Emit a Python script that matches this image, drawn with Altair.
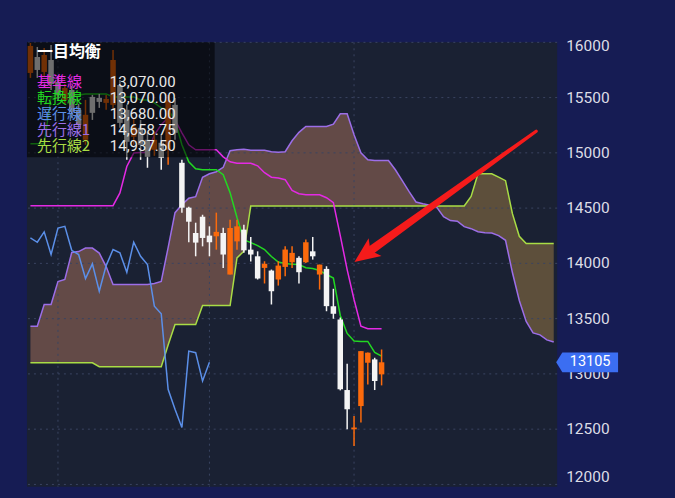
import altair as alt
import pandas as pd

# ---------------- data ----------------
# daily candles, index 0..51
opens = [15723, 15867, 15732, 15840, 15642, 15479, 15569, 15389, 15118, 15506,
         15497, 15452, 15434, 15614, 15389, 15145, 15226, 15118, 15027, 15091,
         15027, 15434, 14910, 14504, 14275, 14422, 14251, 14245, 14275, 13899,
         14199, 14305, 14124, 14064, 13959, 13935, 13854, 13968, 14010, 14050,
         14010, 14109, 13899, 13950, 13612, 13492, 12854, 12499, 12709, 13101,
         13131, 12996]
highs = [15994, 15958, 15949, 15976, 15696, 15623, 15605, 15443, 15479, 15524,
         15533, 15524, 15930, 15660, 15434, 15316, 15298, 15190, 15190, 15163,
         15524, 15497, 14937, 14513, 14368, 14440, 14335, 14459, 14323, 14395,
         14395, 14350, 14239, 14109, 14019, 13944, 14019, 14154, 14154, 14064,
         14215, 14239, 13989, 13974, 13770, 13510, 13092, 12619, 13206, 13194,
         13146, 13221]
lows = [15678, 15678, 15696, 15569, 15479, 15443, 15316, 15208, 15073, 15298,
        15407, 15389, 15389, 15226, 14937, 15073, 14937, 14865, 14973, 14847,
        14892, 15118, 14459, 14190, 14064, 14154, 14064, 14124, 13959, 13899,
        14124, 14097, 14016, 13854, 13818, 13628, 13799, 13883, 13959, 13818,
        14004, 14034, 13763, 13567, 13499, 12851, 12499, 12348, 12560, 12905,
        12854, 12896]
closes = [15967, 15750, 15885, 15623, 15524, 15587, 15371, 15253, 15344, 15362,
          15461, 15488, 15840, 15271, 15100, 15235, 15073, 14964, 15118, 14955,
          15479, 15181, 14504, 14377, 14188, 14230, 14191, 14285, 14080, 14320,
          14335, 14118, 14080, 13863, 13996, 13748, 13980, 14125, 14095, 13920,
          14191, 14064, 13989, 13613, 13544, 12861, 12680, 12515, 13206, 13192,
          12936, 13105]

# 転換線 (conversion line), index 0..51
tenkan = [15082, 15082, 15082, 15506, 15524, 15524, 15524, 15524, 15533, 15533,
          15533, 15533, 15506, 15506, 15506, 15506, 15479, 15479, 15452, 15407,
          15389, 15298, 15073, 14919, 14856, 14847, 14847, 14847, 14802, 14640,
          14415, 14215, 14188, 14161, 14125, 14062, 14012, 13998, 13993, 13989,
          13960, 13953, 13935, 13899, 13867, 13529, 13366, 13297, 13294, 13294,
          13195, 13161]
# 基準線 (base line), index 0..51
kijun = [14522, 14522, 14522, 14522, 14522, 14522, 14522, 14522, 14522, 14522,
         14522, 14522, 14522, 14637, 14877, 14998, 15003, 15003, 15163, 15254,
         15317, 15298, 15181, 15073, 15028, 15028, 15028, 15028, 14964, 14919,
         14906, 14906, 14906, 14883, 14820, 14780, 14772, 14757, 14660, 14630,
         14621, 14621, 14621, 14594, 14549, 14251, 13944, 13673, 13432, 13409,
         13409, 13409]
# 先行線1 / 先行線2 (leading spans), index 0..76
senkou_a = [13432, 13432, 13628, 13628, 13836, 13854, 14098, 14107, 14138, 14138,
            14093, 13971, 13809, 13809, 13809, 13809, 13809, 13809, 13818, 13836,
            14143, 14459, 14531, 14590, 14603, 14779, 14811, 14829, 14869, 15019,
            15028, 15032, 15023, 15023, 15023, 15010, 15005, 15010, 15109, 15185,
            15238, 15238, 15238, 15238, 15260, 15353, 15353, 15163, 15000, 14937,
            14931, 14931, 14931, 14847, 14748, 14649, 14555, 14540, 14527, 14509,
            14423, 14387, 14381, 14332, 14314, 14287, 14278, 14274, 14251, 14209,
            13917, 13664, 13475, 13371, 13353, 13308, 13289]
senkou_b = [13100, 13100, 13100, 13100, 13100, 13100, 13100, 13100, 13100, 13100,
            13065, 13065, 13065, 13065, 13065, 13065, 13065, 13065, 13065, 13065,
            13262, 13447, 13447, 13447, 13447, 13619, 13619, 13619, 13619, 13619,
            14050, 14110, 14520, 14520, 14520, 14520, 14520, 14520, 14520, 14520,
            14520, 14520, 14520, 14520, 14520, 14520, 14520, 14520, 14520, 14520,
            14520, 14520, 14520, 14520, 14520, 14520, 14520, 14520, 14520, 14520,
            14520, 14520, 14520, 14520, 14606, 14811, 14811, 14811, 14780, 14748,
            14450, 14245, 14179, 14179, 14179, 14179, 14179]
CHIKOU_SHIFT = 25  # 遅行線 = close plotted 25 bars back

y_ticks = [12000, 12500, 13000, 13500, 14000, 14500, 15000, 15500, 16000]
vgrid_idx = [4, 26, 47]

legend_title = "一目均衡"
legend_names = ["基準線", "転換線", "遅行線", "先行線1", "先行線2"]
legend_values = ["13,070.00", "13,070.00", "13,680.00", "14,658.75", "14,937.50"]

# annotation arrow (data coordinates): tail -> shaft end, and tip
arrow_i = [73.45, 49.5]
arrow_v = [15196, 14121]
arrow_w = [3.2, 8.5]
arrow_tip_i = [47.06]
arrow_tip_v = [14012]

# ---------------- styles ----------------
C_UP = "#fb6a0c"
C_DOWN = "#f4f4f4"
C_TENKAN = "#22d822"
C_KIJUN = "#e42ae4"
C_CHIKOU = "#5b8fe8"
C_SA = "#9c6ee8"
C_SB = "#a9dd45"
C_CLOUD_UP = "#634a47"
C_CLOUD_DN = "#5d4f3b"
C_GRID = "#3a4461"
C_ARROW = "#f51b1b"
C_LABEL = "#dcdde6"
legend_colors = [C_KIJUN, C_TENKAN, C_CHIKOU, C_SA, C_SB]

W, H = 531, 445
XS = alt.Scale(domain=[-0.5, 76.5], nice=False, zero=False)
YS = alt.Scale(domain=[11980, 16000], nice=False, zero=False)


def X(f="i"):
    return alt.X(f"{f}:Q", scale=XS, axis=None)


def Y(f):
    return alt.Y(f"{f}:Q", scale=YS, axis=None)


# ---------------- frames ----------------
n = len(closes)
candles = pd.DataFrame({"i": range(n), "open": opens, "high": highs,
                        "low": lows, "close": closes})
candles["dir"] = ["up" if c >= o else "down" for o, c in zip(opens, closes)]
lines = pd.DataFrame({"i": range(n), "tenkan": tenkan, "kijun": kijun})
chikou = pd.DataFrame({"i": range(n - CHIKOU_SHIFT), "v": closes[CHIKOU_SHIFT:]})

rows = []
m = len(senkou_a)
for k in range(m):
    a, b = senkou_a[k], senkou_b[k]
    rows.append((k, a, b))
    if k < m - 1:
        a2, b2 = senkou_a[k + 1], senkou_b[k + 1]
        d1, d2 = a - b, a2 - b2
        if d1 * d2 < 0:
            t = d1 / (d1 - d2)
            c = a + t * (a2 - a)
            rows.append((k + t, c, c))
cloud = pd.DataFrame(rows, columns=["i", "a", "b"])
cloud["lo"] = cloud[["a", "b"]].min(axis=1)
spans = pd.DataFrame({"i": range(m), "a": senkou_a, "b": senkou_b})

one = pd.DataFrame({"k": [0]})
ylab = pd.DataFrame({"v": y_ticks, "lab": [str(t) for t in y_ticks]})

# ---------------- layers ----------------
area_up = alt.Chart(cloud).mark_area(color=C_CLOUD_UP, opacity=1).encode(
    x=X(), y=Y("a"), y2="lo:Q")
area_dn = alt.Chart(cloud).mark_area(color=C_CLOUD_DN, opacity=1).encode(
    x=X(), y=Y("b"), y2="lo:Q")

hgrid = alt.Chart(ylab).mark_rule(
    color=C_GRID, strokeDash=[2, 4], strokeWidth=1).encode(y=Y("v"))
vgrid = alt.Chart(pd.DataFrame({"i": vgrid_idx})).mark_rule(
    color=C_GRID, strokeDash=[2, 4], strokeWidth=1).encode(x=X())

# price-axis labels on the right (first/last kept flush inside the range)
lo_t, hi_t = y_ticks[0], y_ticks[-1]
lab_kw = dict(align="left", font="Roboto", fontSize=15.5, color=C_LABEL)
lab_mid = alt.Chart(ylab).transform_filter(
    f"datum.v > {lo_t} && datum.v < {hi_t}").mark_text(baseline="middle", **lab_kw).encode(
    x=alt.value(W + 9), y=Y("v"), text="lab:N")
lab_top = alt.Chart(ylab).transform_filter(f"datum.v == {hi_t}").mark_text(
    baseline="middle", dy=4, **lab_kw).encode(x=alt.value(W + 9), y=Y("v"), text="lab:N")
lab_bot = alt.Chart(ylab).transform_filter(f"datum.v == {lo_t}").mark_text(
    baseline="middle", dy=-7, **lab_kw).encode(x=alt.value(W + 9), y=Y("v"), text="lab:N")

line_sa = alt.Chart(spans).mark_line(color=C_SA, strokeWidth=1.5).encode(x=X(), y=Y("a"))
line_sb = alt.Chart(spans).mark_line(color=C_SB, strokeWidth=1.5).encode(x=X(), y=Y("b"))
line_ch = alt.Chart(chikou).mark_line(color=C_CHIKOU, strokeWidth=1.5).encode(x=X(), y=Y("v"))
line_kj = alt.Chart(lines).mark_line(color=C_KIJUN, strokeWidth=1.5).encode(x=X(), y=Y("kijun"))
line_tk = alt.Chart(lines).mark_line(color=C_TENKAN, strokeWidth=1.5).encode(x=X(), y=Y("tenkan"))

dir_color = alt.Color("dir:N", scale=alt.Scale(domain=["up", "down"], range=[C_UP, C_DOWN]),
                      legend=None)
wicks = alt.Chart(candles).mark_rule(strokeWidth=1.5).encode(
    x=X(), y=Y("low"), y2="high:Q", color=dir_color)
bodies = alt.Chart(candles).mark_rule(strokeWidth=5.5).encode(
    x=X(), y=Y("open"), y2="close:Q", color=dir_color)

arrow_shaft = alt.Chart(pd.DataFrame({"i": arrow_i, "v": arrow_v, "w": arrow_w})).mark_trail(
    color=C_ARROW).encode(x=X(), y=Y("v"), size=alt.Size("w:Q", scale=None, legend=None))
arrow_head = alt.Chart(pd.DataFrame({"i": arrow_tip_i, "v": arrow_tip_v})).mark_point(
    shape="M0,0 L0.86,2 L0,1.55 L-0.86,2 Z", size=650, filled=True, opacity=1,
    color=C_ARROW, strokeWidth=0, angle=234).encode(x=X(), y=Y("v"))

legend_box = alt.Chart(one).mark_rect(color="#000000", opacity=0.55).encode(
    x=alt.value(0), x2=alt.value(188), y=alt.value(0), y2=alt.value(115))
title_txt = alt.Chart(pd.DataFrame({"t": [legend_title]})).mark_text(
    align="left", baseline="middle", font="Noto Sans CJK JP", fontSize=16,
    fontWeight="bold", color="#ffffff").encode(
    x=alt.value(10), y=alt.value(9.7), text="t:N")

legend_layers = []
for r, (nm, val, col) in enumerate(zip(legend_names, legend_values, legend_colors)):
    yy = 40 + r * 16
    d = pd.DataFrame({"name": [nm], "val": [val]})
    legend_layers.append(alt.Chart(d).mark_text(
        align="left", baseline="middle", font="Noto Sans CJK JP", fontSize=15,
        lineHeight=15, color=col).encode(x=alt.value(10), y=alt.value(yy), text="name:N"))
    legend_layers.append(alt.Chart(d).mark_text(
        align="left", baseline="middle", font="Roboto", fontSize=15,
        lineHeight=15, color="#e8e8e8").encode(x=alt.value(83), y=alt.value(yy), text="val:N"))

last = pd.DataFrame({"v": [closes[-1]], "lab": [str(closes[-1])]})
tag = alt.Chart(last).mark_point(
    shape="M-1,0 L-0.8,-0.32 L1,-0.32 L1,0.32 L-0.8,0.32 Z", size=3844, filled=True,
    opacity=1, color="#3b6ef2", strokeWidth=0).encode(x=alt.value(561), y=Y("v"))
tag_txt = alt.Chart(last).mark_text(
    align="center", baseline="middle", font="Roboto", fontSize=14.5, color="#ffffff").encode(
    x=alt.value(564), y=Y("v"), text="lab:N")

chart = alt.layer(
    area_up, area_dn, hgrid, vgrid, lab_mid, lab_top, lab_bot,
    line_sa, line_sb, line_ch, line_kj, line_tk,
    wicks, bodies, arrow_shaft, arrow_head, legend_box, title_txt, *legend_layers,
    tag, tag_txt
).properties(
    width=W, height=H, background="#161c54",
    padding={"left": 19, "top": 34, "right": 110, "bottom": 5},
    autosize=alt.AutoSizeParams(type="none"),
).configure_view(fill="#1a2133", stroke=None)


class _BgTemplate:
    def __init__(self, base, css):
        self.base = base
        self.css = css

    def render(self, **kw):
        html = self.base.render(**kw)
        return html.replace("<head>", "<head>\n<style>" + self.css + "</style>", 1)


opts = {"renderer": "svg", "actions": False}
try:
    from altair.utils.html import TEMPLATES
    tpl = _BgTemplate(TEMPLATES["standard"], "html,body{background:#161c54;}")
    chart.save("out.html", embed_options=opts, template=tpl)
except Exception:
    chart.save("out.html", embed_options=opts)
